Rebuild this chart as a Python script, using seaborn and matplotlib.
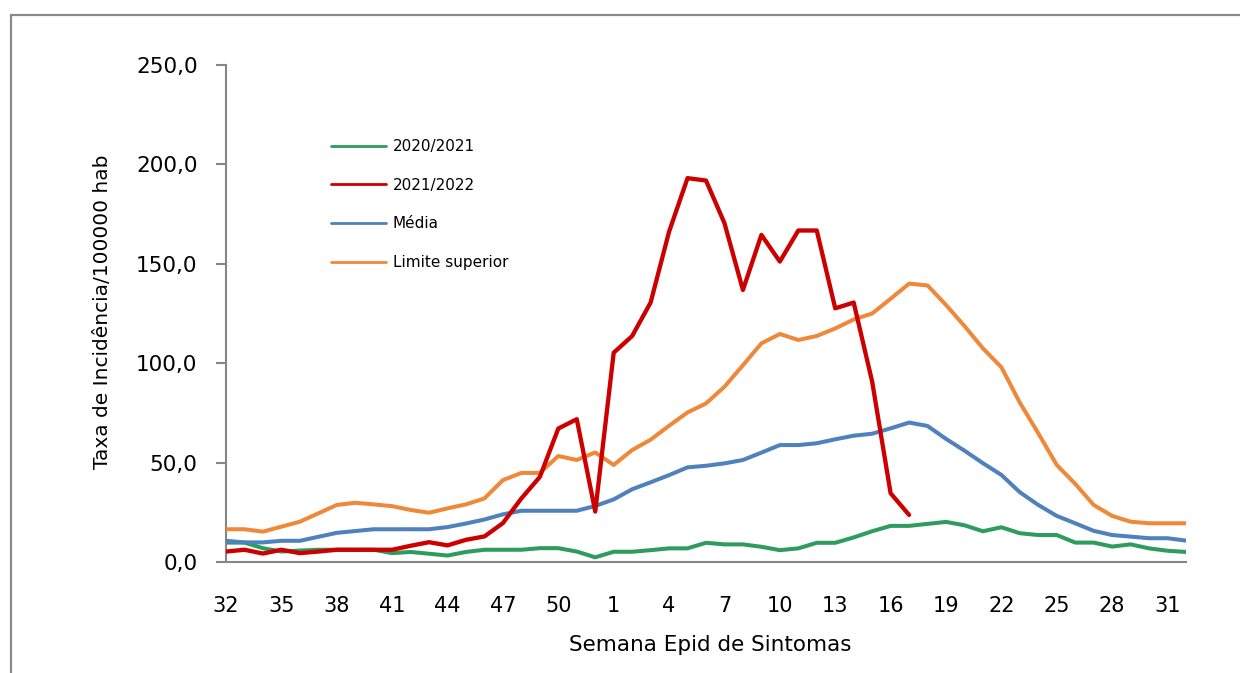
import numpy as np
import pandas as pd
import seaborn as sns
import matplotlib
matplotlib.use('Agg')
import matplotlib.pyplot as plt
from matplotlib.lines import Line2D

# semanas epidemiologicas (32 a 52, depois 1 a 32)
weeks = list(range(32, 53)) + list(range(1, 33))

serie_2020 = [9.9, 9.9, 7.1, 5.4, 5.9, 6.3, 6.3, 6.3, 6.3, 4.6,
              5.2, 4.3, 3.4, 5.2, 6.3, 6.3, 6.3, 7.1, 7.1, 5.4,
              2.5, 5.3, 5.3, 6.1, 7.0, 7.0, 9.8, 9.0, 9.0, 7.8,
              6.1, 7.0, 9.8, 9.8, 12.5, 15.6, 18.3, 18.3, 19.3, 20.3,
              18.6, 15.6, 17.6, 14.6, 13.7, 13.7, 9.9, 9.9, 7.9, 9.0,
              7.0, 5.8, 5.2]

serie_2021 = [5.4, 6.3, 4.4, 6.3, 4.6, 5.4, 6.3, 6.3, 6.3, 6.3,
              8.3, 10.1, 8.5, 11.3, 13.0, 19.7, 32.1, 42.9, 67.2, 71.9,
              25.5, 105.3, 113.7, 130.5, 166.1, 193.0, 191.8, 170.4, 136.8, 164.5,
              151.1, 166.7, 166.7, 127.6, 130.5, 90.8, 34.7, 23.8]

media = [10.8, 10.0, 10.0, 10.8, 10.8, 12.8, 14.8, 15.7, 16.6, 16.6,
         16.6, 16.6, 17.7, 19.5, 21.5, 24.1, 25.9, 25.9, 25.9, 25.9,
         28.3, 31.6, 36.7, 40.2, 43.8, 47.7, 48.5, 49.7, 51.4, 55.1,
         58.9, 58.9, 59.8, 61.8, 63.6, 64.6, 67.3, 70.2, 68.5, 62.0,
         56.1, 49.8, 43.9, 35.2, 28.8, 23.3, 19.6, 15.8, 13.7, 12.9,
         12.1, 12.1, 10.9]

limite_sup = [16.6, 16.6, 15.4, 17.9, 20.4, 24.6, 28.8, 29.9, 29.1, 28.2,
              26.3, 24.9, 27.1, 29.1, 32.1, 41.3, 44.9, 44.9, 53.4, 51.4,
              55.2, 48.9, 56.4, 61.6, 68.6, 75.3, 79.8, 88.2, 99.0, 110.0,
              114.7, 111.7, 113.7, 117.5, 122.0, 125.0, 132.4, 140.0, 139.1, 129.3,
              118.7, 107.5, 98.0, 80.2, 64.8, 48.9, 39.4, 28.8, 23.3, 20.4,
              19.6, 19.6, 19.6]

yticks = [0, 50, 100, 150, 200, 250]
ytick_labels = ['0,0', '50,0', '100,0', '150,0', '200,0', '250,0']

n = len(weeks)
idx = np.arange(n)
red_full = serie_2021 + [np.nan] * (n - len(serie_2021))

sns.set_style('white')
plt.rcParams['font.family'] = ['DejaVu Sans']
plt.rcParams['text.color'] = 'black'
plt.rcParams['xtick.color'] = 'black'
plt.rcParams['ytick.color'] = 'black'

fig = plt.figure(figsize=(12.4, 6.73), dpi=100)
ax = fig.add_axes([226 / 1240, 110.7 / 673, 960 / 1240, 497.6 / 673])

sns.lineplot(x=idx, y=serie_2020, ax=ax, color='#2E9B5F', lw=2.9, label='2020/2021', zorder=2)
sns.lineplot(x=idx, y=red_full, ax=ax, color='#CC0000', lw=3.1, label='2021/2022', zorder=5)
sns.lineplot(x=idx, y=media, ax=ax, color='#4F81BD', lw=2.9, label='Média', zorder=3)
sns.lineplot(x=idx, y=limite_sup, ax=ax, color='#F0883A', lw=2.9, label='Limite superior', zorder=4)

ax.set_xlim(0, n - 1)
ax.set_ylim(0, 250)
ax.set_yticks(yticks)
ax.set_yticklabels(ytick_labels, fontsize=15.5)
ax.set_xticks(idx[::3])
ax.set_xticklabels([str(w) for w in weeks[::3]], fontsize=15)
ax.tick_params(axis='x', length=0, pad=24)
ax.tick_params(axis='y', length=7.5, width=1.5, color='#868686', pad=13, direction='out')
ax.yaxis.set_ticks_position('left')

for s in ['top', 'right']:
    ax.spines[s].set_visible(False)
for s in ['left', 'bottom']:
    ax.spines[s].set_color('#868686')
    ax.spines[s].set_linewidth(1.5)
ax.set_xlabel('')
ax.set_ylabel('')

fig.text(103 / 1240, 1 - 312 / 673, 'Taxa de Incidência/100000 hab', rotation=90,
         ha='center', va='center', fontsize=14.5)
fig.text(710 / 1240, 1 - 645 / 673, 'Semana Epid de Sintomas', ha='center', va='center', fontsize=15.5)

leg = ax.legend(loc='upper left', bbox_to_anchor=(331 / 1240, 1 - 139 / 673),
                bbox_transform=fig.transFigure, frameon=False, fontsize=11,
                handlelength=3.6, handletextpad=0.45, labelspacing=1.55,
                borderpad=0, borderaxespad=0)
for h in leg.get_lines():
    h.set_linewidth(2)

# moldura da area do grafico
fig.add_artist(Line2D([11 / 1240, 1.0], [1 - 15 / 673, 1 - 15 / 673], color='#8a8a8a', lw=1.6))
fig.add_artist(Line2D([11 / 1240, 11 / 1240], [0.0, 1 - 15 / 673], color='#8a8a8a', lw=1.6))

fig.savefig('out.png', dpi=100)
